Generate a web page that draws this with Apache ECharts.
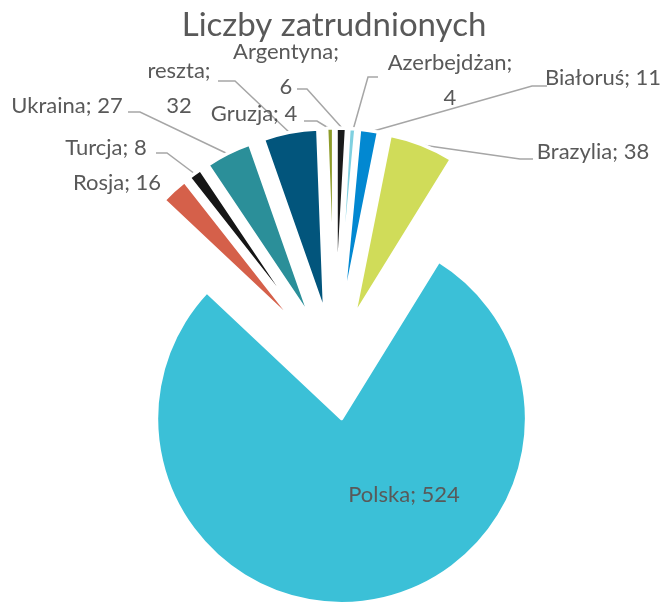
<!DOCTYPE html>
<html>
<head>
<meta charset="utf-8">
<script src="https://cdn.jsdelivr.net/npm/echarts@6/dist/echarts.min.js"></script>
<style>
html,body{margin:0;padding:0;background:#fff;}
#chart{width:668px;height:602px;}
</style>
</head>
<body>
<div id="chart"></div>
<script>
// ---- data ----
var categories = ['Argentyna', 'Azerbejdżan', 'Białoruś', 'Brazylia', 'Polska', 'Rosja', 'Turcja', 'Ukraina', 'reszta', 'Gruzja'];
var values = [6, 4, 11, 38, 524, 16, 8, 27, 32, 4];
var titleText = 'Liczby zatrudnionych';

// ---- styles ----
var colors = ['#1b1b1b', '#7fd0e0', '#0288d1', '#d0dc59', '#3bc0d7', '#d5604a', '#161616', '#2b8f99', '#02557c', '#8e9c2a'];
var wrapped = ['Argentyna', 'Azerbejdżan', 'reszta'];
// label placement (center of label) and leader lines, by category index
var labelPos = [
  [286, 69], [450, 80], [603, 78], [593, 152], [404, 495],
  [117, 183], [106, 148], [67, 106], [179, 88], [254, 114]
];
var leaderLines = [
  [[297, 89], [307, 89], [342, 128]],
  [[378, 77], [368, 77], [353, 130]],
  [[547, 86], [532, 86], [370, 132]],
  [[533, 159], [520, 159], [422, 145]],
  null,
  null,
  [[156, 153], [167, 153], [195, 174]],
  [[128, 112], [140, 112], [228, 154]],
  [[218, 81], [235, 81], [290, 133]],
  [[304, 121], [317, 121], [330, 129]]
];

var FONT = 'Lato, "Open Sans", sans-serif';
var TXT = '#595959';
var CENTER = [334.6, 366];
var RADIUS = 185;

var sliceData = categories.map(function (c, i) {
  return {
    name: c, value: values[i], selected: true,
    itemStyle: { color: colors[i] }
  };
});
var labelData = categories.map(function (c, i) {
  return {
    name: c, value: values[i],
    labelLine: { show: !!leaderLines[i] }
  };
});

var chart = echarts.init(document.getElementById('chart'), null, { renderer: 'canvas' });
chart.setOption({
  animation: false,
  backgroundColor: '#fff',
  title: {
    text: titleText,
    left: 'center',
    top: 4,
    textStyle: { fontFamily: FONT, fontSize: 33, fontWeight: 'normal', color: TXT }
  },
  series: [
    {
      type: 'pie',
      center: CENTER,
      radius: RADIUS,
      startAngle: 90,
      clockwise: true,
      selectedMode: 'multiple',
      selectedOffset: 53,
      silent: true,
      emphasis: { disabled: true, scale: false },
      itemStyle: { borderColor: '#ffffff', borderWidth: 3.4 },
      select: { itemStyle: { borderColor: '#ffffff', borderWidth: 3.4 } },
      label: { show: false },
      labelLine: { show: false },
      data: sliceData
    },
    {
      type: 'pie',
      center: CENTER,
      radius: RADIUS,
      startAngle: 90,
      clockwise: true,
      silent: true,
      avoidLabelOverlap: false,
      emphasis: { disabled: true, scale: false },
      itemStyle: { color: 'rgba(0,0,0,0)', borderWidth: 0 },
      label: {
        show: true,
        position: 'outside',
        fontFamily: FONT,
        fontSize: 22,
        lineHeight: 35,
        color: TXT,
        formatter: function (p) {
          var sep = wrapped.indexOf(p.name) >= 0 ? ';\n' : '; ';
          return p.name + sep + p.value;
        }
      },
      labelLine: { show: true, lineStyle: { color: '#a6a6a6', width: 1.5 } },
      labelLayout: function (p) {
        var pos = labelPos[p.dataIndex];
        var r = { x: pos[0], y: pos[1], align: 'center', verticalAlign: 'middle' };
        if (leaderLines[p.dataIndex]) r.labelLinePoints = leaderLines[p.dataIndex];
        return r;
      },
      data: labelData
    }
  ]
});
</script>
</body>
</html>
